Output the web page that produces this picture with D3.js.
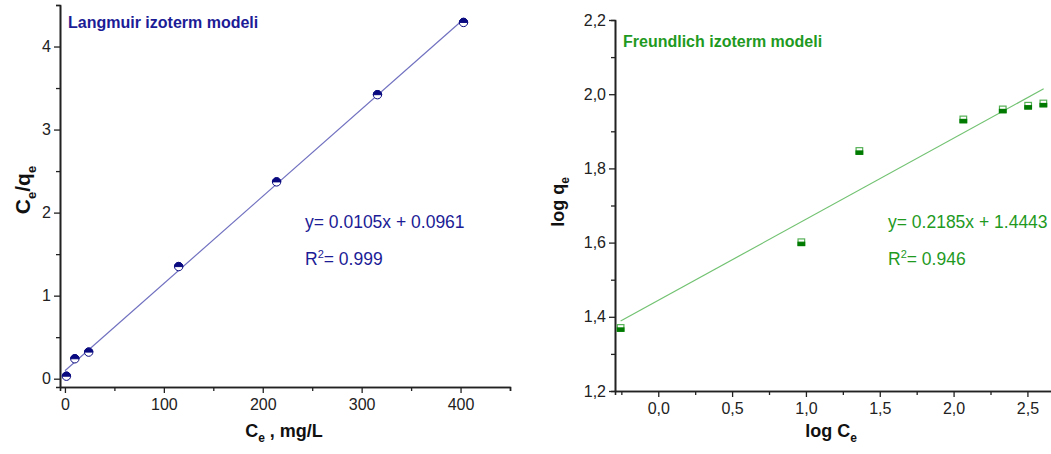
<!DOCTYPE html>
<html><head><meta charset="utf-8">
<script src="https://cdn.jsdelivr.net/npm/d3@7"></script>
<style>body{margin:0;background:#fff}svg{display:block}text{font-family:Arial,"Liberation Sans",sans-serif}</style>
</head><body><svg id="c" width="1051" height="454"></svg>
<script>
// Langmuir data
const langCe = [1.5, 10, 24, 115, 214, 316, 403];
const langRatio = [0.03, 0.24, 0.32, 1.35, 2.37, 3.42, 4.29];
const langFit = {slope: 0.0105, intercept: 0.0961, x0: 0, x1: 403};
const langXTicks = [0, 100, 200, 300, 400];
const langYTicks = [0, 1, 2, 3, 4];
// Freundlich data
const frLogCe = [-0.255, 0.969, 1.362, 2.066, 2.333, 2.505, 2.608];
const frLogQe = [1.370, 1.601, 1.847, 1.932, 1.959, 1.969, 1.975];
const frFit = {slope: 0.2185, intercept: 1.4443, x0: -0.255, x1: 2.61};
const frXTicks = [0, 0.5, 1.0, 1.5, 2.0, 2.5];
const frYTicks = [1.2, 1.4, 1.6, 1.8, 2.0, 2.2];

const svg = d3.select("#c");
const fmtC = d => d3.format(".1f")(d).replace(".", ",");

function panel(o) {
  const g = svg.append("g");
  const x = d3.scaleLinear().domain(o.xDom).range(o.xRange);
  const y = d3.scaleLinear().domain(o.yDom).range(o.yRange);
  const xa = g.append("g").attr("transform", `translate(0,${o.yRange[0]})`)
    .call(d3.axisBottom(x).tickValues(o.xMinor).tickSize(4).tickFormat(""));
  const ya = g.append("g").attr("transform", `translate(${o.xRange[0]},0)`)
    .call(d3.axisLeft(y).tickValues(o.yMinor).tickSize(4).tickFormat(""));
  const xb = g.append("g").attr("transform", `translate(0,${o.yRange[0]})`)
    .call(d3.axisBottom(x).tickValues(o.xTicks).tickSize(6).tickPadding(6).tickFormat(o.fmt).tickSizeOuter(0));
  const yb = g.append("g").attr("transform", `translate(${o.xRange[0]},0)`)
    .call(d3.axisLeft(y).tickValues(o.yTicks).tickSize(6).tickPadding(3).tickFormat(o.fmt).tickSizeOuter(0));
  [xa, ya, xb, yb].forEach(a => {
    a.selectAll("path").attr("stroke", "#222").attr("stroke-width", 1.6);
    a.selectAll("line").attr("stroke", "#222").attr("stroke-width", 1.3);
    a.selectAll("text").attr("fill", "#222").style("font-size", "16px");
  });
  g.append("line")
    .attr("x1", x(o.fit.x0)).attr("y1", y(o.fit.slope * o.fit.x0 + o.fit.intercept))
    .attr("x2", x(o.fit.x1)).attr("y2", y(o.fit.slope * o.fit.x1 + o.fit.intercept))
    .attr("stroke", o.lineColor).attr("stroke-width", 1.2);
  const pts = o.xs.map((v, i) => [x(v), y(o.ys[i])]);
  const mg = g.append("g");
  pts.forEach(([px, py]) => {
    if (o.shape === "circle") {
      const r = 4.2;
      mg.append("circle").attr("cx", px).attr("cy", py).attr("r", r)
        .attr("fill", "#fff").attr("stroke", o.mk).attr("stroke-width", 1);
      mg.append("path").attr("d", `M${px - r},${py} A${r},${r} 0 0 1 ${px + r},${py} Z`)
        .attr("fill", o.mk).attr("stroke", o.mk).attr("stroke-width", 1);
    } else {
      const s = 3.3;
      mg.append("rect").attr("x", px - s).attr("y", py - s).attr("width", 2 * s).attr("height", 2 * s)
        .attr("fill", "#fff").attr("stroke", o.mkLight).attr("stroke-width", 1.2);
      mg.append("rect").attr("x", px - s).attr("y", py).attr("width", 2 * s).attr("height", s)
        .attr("fill", o.mk).attr("stroke", o.mk).attr("stroke-width", 1.2);
    }
  });
  g.append("text").attr("x", o.title[1]).attr("y", o.title[2]).text(o.title[0])
    .attr("fill", o.txt).style("font-size", "16px").style("font-weight", "bold");
  g.append("text").attr("x", o.eqX).attr("y", 228).text(o.eq)
    .attr("fill", o.txt).style("font-size", "17.5px");
  const r2 = g.append("text").attr("x", o.eqX).attr("y", 265).attr("fill", o.txt).style("font-size", "17.5px");
  r2.append("tspan").text("R");
  r2.append("tspan").text("2").attr("dy", -7).style("font-size", "11px");
  r2.append("tspan").text("= " + o.r2).attr("dy", 7);
  const xl = g.append("text").attr("x", o.xLab[2]).attr("y", 437).attr("text-anchor", "middle")
    .attr("fill", "#111").style("font-size", "18px").style("font-weight", "bold");
  xl.append("tspan").text(o.xLab[0]);
  xl.append("tspan").text("e").attr("dy", 5).style("font-size", "12px");
  xl.append("tspan").text(o.xLab[1]).attr("dy", -5);
  const yl = g.append("text").attr("transform", `translate(${o.yLab[1]},${o.yLab[2]}) rotate(-90)`)
    .attr("text-anchor", "middle").attr("fill", "#111").style("font-size", o.yLab[3]).style("font-weight", "bold");
  o.yLab[0].forEach(p => {
    const t = yl.append("tspan").text(p[0]);
    if (p[1]) t.attr("dy", p[1]);
    if (p[2]) t.style("font-size", p[2]);
  });
}

panel({
  xDom: [-5, 450], xRange: [60, 510], yDom: [-0.1, 4.5], yRange: [387, 5],
  xTicks: langXTicks, yTicks: langYTicks,
  xMinor: [50, 150, 250, 350, 450], yMinor: [0.5, 1.5, 2.5, 3.5, 4.5],
  fmt: d3.format("d"), fit: langFit, xs: langCe, ys: langRatio,
  lineColor: "#7070c0", shape: "circle", mk: "#0a0a80",
  title: ["Langmuir izoterm modeli", 68, 28], txt: "#1c1c96",
  eq: "y= 0.0105x + 0.0961", r2: "0.999", eqX: 305,
  xLab: ["C", " , mg/L", 284],
  yLab: [[["C"], ["e", 6, "13px"], ["/q", -6], ["e", 6, "13px"]], 30, 190, "21px"]
});

panel({
  xDom: [-0.293, 2.68], xRange: [615, 1054], yDom: [1.2, 2.2], yRange: [391, 20],
  xTicks: frXTicks, yTicks: frYTicks,
  xMinor: [-0.25, 0.25, 0.75, 1.25, 1.75, 2.25], yMinor: [1.3, 1.5, 1.7, 1.9, 2.1],
  fmt: fmtC, fit: frFit, xs: frLogCe, ys: frLogQe,
  lineColor: "#72c272", shape: "square", mk: "#007a00", mkLight: "#55b055",
  title: ["Freundlich izoterm modeli", 623, 47], txt: "#1f9a1f",
  eq: "y= 0.2185x + 1.4443", r2: "0.946", eqX: 888,
  xLab: ["log C", "", 831],
  yLab: [[["log q"], ["e", 5, "12px"]], 564, 202, "18px"]
});
</script></body></html>
